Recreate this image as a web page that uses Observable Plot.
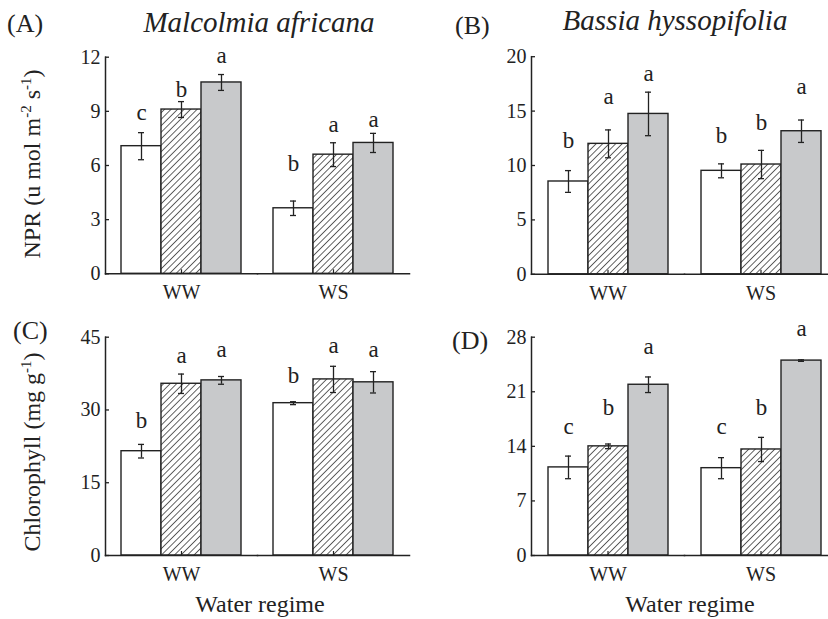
<!DOCTYPE html>
<html>
<head>
<meta charset="utf-8">
<script src="https://cdn.jsdelivr.net/npm/d3@7"></script>
<script src="https://cdn.jsdelivr.net/npm/@observablehq/plot@0.6"></script>
<style>
  html, body { margin: 0; padding: 0; background: #fff; overflow: hidden; }
  #root { position: relative; width: 828px; height: 619px; overflow: hidden; background: #fff;
          font-family: "Liberation Serif", "Times New Roman", Times, serif; color: #222; }
  .abs { position: absolute; white-space: nowrap; line-height: 1; }
  .plabel { font-size: 26px; }
  .title { font-size: 29px; font-style: italic; transform: translateX(-50%); }
  .ylab { font-size: 24px; transform: translate(-50%, -50%) rotate(-90deg); }
  .ylab sup { font-size: 15px; vertical-align: 0.6em; line-height: 0; }
  .xlab { font-size: 24px; transform: translateX(-50%); }
</style>
</head>
<body>
<svg width="0" height="0" style="position:absolute">
  <defs>
    <pattern id="hatch" patternUnits="userSpaceOnUse" width="4.6" height="4.6" patternTransform="rotate(45)">
      <rect width="4.6" height="4.6" fill="#fff"></rect>
      <line x1="0" y1="0" x2="0" y2="4.6" stroke="#111" stroke-width="1.3"></line>
    </pattern>
  </defs>
</svg>
<div id="root"></div>
<script>
// ---- data ----
const regimes = ["WW", "WS"];
const treatments = ["T1", "T2", "T3"];

// (A) Malcolmia africana, NPR
const nprMalcolmia = [7.07, 9.1, 10.6, 3.63, 6.6, 7.25];
const nprMalcolmiaErr = [0.75, 0.44, 0.44, 0.4, 0.66, 0.53];
const nprMalcolmiaLetters = ["c", "b", "a", "b", "a", "a"];
const nprMalcolmiaLetterY = [8.95, 10.2, 12.09, 6.09, 8.27, 8.55];
const nprMalcolmiaTicks = [0, 3, 6, 9, 12];

// (B) Bassia hyssopifolia, NPR
const nprBassia = [8.53, 11.99, 14.74, 9.51, 10.09, 13.15];
const nprBassiaErr = [1.0, 1.28, 2.0, 0.64, 1.3, 1.03];
const nprBassiaLetters = ["b", "a", "a", "b", "b", "a"];
const nprBassiaLetterY = [12.25, 16.3, 18.4, 12.7, 13.9, 17.25];
const nprBassiaTicks = [0, 5, 10, 15, 20];

// (C) Malcolmia africana, Chlorophyll
const chlMalcolmia = [21.5, 35.4, 36.1, 31.4, 36.3, 35.7];
const chlMalcolmiaErr = [1.4, 2.0, 0.8, 0.3, 2.7, 2.2];
const chlMalcolmiaLetters = ["b", "a", "a", "b", "a", "a"];
const chlMalcolmiaLetterY = [27.8, 41.1, 42.4, 37.1, 43.3, 42.4];
const chlMalcolmiaTicks = [0, 15, 30, 45];

// (D) Bassia hyssopifolia, Chlorophyll
const chlBassia = [11.3, 14.0, 21.9, 11.2, 13.6, 25.0];
const chlBassiaErr = [1.45, 0.3, 1.0, 1.35, 1.55, 0.1];
const chlBassiaLetters = ["c", "b", "a", "c", "b", "a"];
const chlBassiaLetterY = [16.5, 19.0, 26.8, 16.5, 19.0, 29.1];
const chlBassiaTicks = [0, 7, 14, 21, 28];

const fills = {T1: "#ffffff", T2: "url(#hatch)", T3: "#c8c9cb"};
const serif = '"Liberation Serif", "Times New Roman", Times, serif';

function makeRows(values, errors, letters, letterY) {
  return values.map((v, i) => ({
    regime: regimes[Math.floor(i / 3)],
    treatment: treatments[i % 3],
    value: v, lo: v - errors[i], hi: v + errors[i],
    letter: letters[i], ly: letterY[i]
  }));
}

function panel(rows, ticks, layout) {
  const marks = [];
  for (const t of treatments) {
    marks.push(Plot.barY(rows.filter(d => d.treatment === t), {
      fx: "regime", x: "treatment", y: "value",
      fill: fills[t], stroke: "#222", strokeWidth: 1.4
    }));
  }
  marks.push(
    Plot.ruleX(rows, {fx: "regime", x: "treatment", y1: "lo", y2: "hi", stroke: "#222", strokeWidth: 1.3}),
    Plot.tickY(rows, {fx: "regime", x: "treatment", y: "hi", stroke: "#222", strokeWidth: 1.3, insetLeft: 17, insetRight: 17}),
    Plot.tickY(rows, {fx: "regime", x: "treatment", y: "lo", stroke: "#222", strokeWidth: 1.3, insetLeft: 17, insetRight: 17}),
    Plot.text(rows, {fx: "regime", x: "treatment", y: "ly", text: "letter", fontSize: 23, fill: "#222"}),
    Plot.frame({anchor: "bottom", stroke: "#222", strokeWidth: 1.5}),
    Plot.frame({anchor: "left", facetAnchor: "left", stroke: "#222", strokeWidth: 1.5}),
    Plot.axisY({ticks, tickSize: 0, tickPadding: 5, fontSize: 20, label: null}),
    Plot.axisY({ticks, tickSize: 4, dx: 4, tickFormat: () => "", strokeWidth: 1.3, label: null}),
    Plot.axisFx({anchor: "bottom", tickSize: 0, tickPadding: 11, fontSize: 20, label: null}),
    Plot.axisFx({anchor: "bottom", tickSize: 4, dy: -4, tickFormat: () => "", strokeWidth: 1.2, label: null})
  );
  const svg = Plot.plot({
    width: layout.width, height: layout.height,
    marginLeft: layout.marginLeft, marginRight: layout.marginRight,
    marginTop: layout.marginTop, marginBottom: layout.marginBottom,
    style: {fontFamily: serif, fontSize: "20px", color: "#222", background: "transparent", overflow: "visible"},
    fx: {domain: regimes, padding: 0},
    x: {domain: treatments, paddingInner: 0, paddingOuter: 0.37, axis: null},
    y: {domain: layout.yDomain},
    marks
  });
  svg.style.position = "absolute";
  svg.style.left = layout.left + "px";
  svg.style.top = layout.top + "px";
  return svg;
}

const root = document.getElementById("root");

root.appendChild(panel(makeRows(nprMalcolmia, nprMalcolmiaErr, nprMalcolmiaLetters, nprMalcolmiaLetterY), nprMalcolmiaTicks,
  {left: 0, top: 0, width: 414, height: 305, marginLeft: 105, marginRight: 5, marginTop: 56.7, marginBottom: 31.7, yDomain: [0, 12]}));
root.appendChild(panel(makeRows(nprBassia, nprBassiaErr, nprBassiaLetters, nprBassiaLetterY), nprBassiaTicks,
  {left: 414, top: 0, width: 423, height: 305, marginLeft: 117, marginRight: 0, marginTop: 56.2, marginBottom: 31.2, yDomain: [0, 20]}));
root.appendChild(panel(makeRows(chlMalcolmia, chlMalcolmiaErr, chlMalcolmiaLetters, chlMalcolmiaLetterY), chlMalcolmiaTicks,
  {left: 0, top: 305, width: 414, height: 314, marginLeft: 104, marginRight: 5, marginTop: 31.7, marginBottom: 64, yDomain: [0, 45]}));
root.appendChild(panel(makeRows(chlBassia, chlBassiaErr, chlBassiaLetters, chlBassiaLetterY), chlBassiaTicks,
  {left: 414, top: 305, width: 423, height: 314, marginLeft: 117, marginRight: 0, marginTop: 31.7, marginBottom: 64, yDomain: [0, 28]}));

function addText(html, cls, left, top) {
  const d = document.createElement("div");
  d.className = "abs " + cls;
  d.innerHTML = html;
  d.style.left = left + "px";
  d.style.top = top + "px";
  root.appendChild(d);
}
addText("(A)", "plabel", 7, 11);
addText("Malcolmia africana", "title", 259, 8);
addText("(B)", "plabel", 455, 13);
addText("Bassia hyssopifolia", "title", 675, 6);
addText("(C)", "plabel", 13, 318);
addText("(D)", "plabel", 452, 328);
addText("NPR (u mol m<sup>-2</sup> s<sup>-1</sup>)", "ylab", 32, 164);
addText("Chlorophyll (mg g<sup>-1</sup>)", "ylab", 32, 452);
addText("Water regime", "xlab", 260, 592);
addText("Water regime", "xlab", 690, 592);
</script>
</body>
</html>
